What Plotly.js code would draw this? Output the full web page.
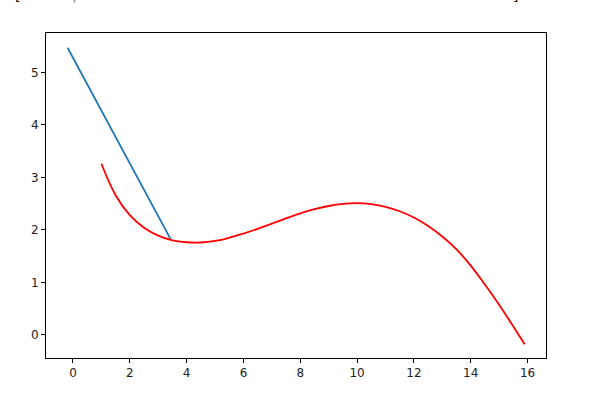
<!DOCTYPE html>
<html>
<head>
<meta charset="utf-8">
<script src="https://cdn.plot.ly/plotly-3.0.1.min.js"></script>
<style>html,body{margin:0;padding:0;background:#fff;}#chart{width:616px;height:408px;}</style>
</head>
<body>
<div id="chart"></div>
<script>
// Blue straight segment
const blueX = [-0.19, 3.45];
const blueY = [5.47, 1.81];

// Red curve
const redX = [1.0, 1.5, 2.0, 2.5, 3.0, 3.5, 4.0, 4.5, 5.0, 5.5, 6.0, 6.5, 7.0, 7.5, 8.0, 8.5, 9.0, 9.5, 10.0, 10.5, 11.0, 11.5, 12.0, 12.5, 13.0, 13.5, 14.0, 14.5, 15.0, 15.5, 15.9];
const redY = [3.26, 2.66, 2.28, 2.04, 1.89, 1.80, 1.765, 1.76, 1.79, 1.85, 1.93, 2.02, 2.12, 2.22, 2.315, 2.395, 2.455, 2.495, 2.51, 2.49, 2.44, 2.355, 2.235, 2.075, 1.875, 1.63, 1.32, 0.96, 0.575, 0.16, -0.18];

const xTicks = [0, 2, 4, 6, 8, 10, 12, 14, 16];
const yTicks = [0, 1, 2, 3, 4, 5];

const traces = [
  {x: blueX, y: blueY, mode: 'lines', line: {color: '#1f77b4', width: 1.8}, hoverinfo: 'skip'},
  {x: redX, y: redY, mode: 'lines', line: {color: '#ff0000', width: 1.8, shape: 'spline', smoothing: 1}, hoverinfo: 'skip'}
];

const axisCommon = {
  showline: true, mirror: true, linecolor: '#000', linewidth: 1,
  ticks: 'outside', ticklen: 4, tickwidth: 1, tickcolor: '#000',
  showgrid: false, zeroline: false,
  tickfont: {family: 'DejaVu Sans', size: 12, color: '#222'}
};

const frag = {xref: 'paper', yref: 'paper', y: 1.0, yanchor: 'bottom', xanchor: 'center', yshift: 28, showarrow: false};

const layout = {
  width: 616, height: 408,
  margin: {l: 46, r: 70, t: 33, b: 50},
  paper_bgcolor: '#fff', plot_bgcolor: '#fff',
  showlegend: false,
  xaxis: Object.assign({}, axisCommon, {range: [-0.95, 16.65], tickvals: xTicks, ticktext: xTicks.map(String)}),
  yaxis: Object.assign({}, axisCommon, {range: [-0.44, 5.75], tickvals: yTicks, ticktext: yTicks.map(String)}),
  annotations: [
    Object.assign({}, frag, {text: '[', x: -0.058, font: {family: 'DejaVu Sans', size: 14, color: '#000'}}),
    Object.assign({}, frag, {text: '|', x: 0.056, font: {family: 'DejaVu Sans', size: 14, color: '#777'}}),
    Object.assign({}, frag, {text: ']', x: 0.938, font: {family: 'DejaVu Sans', size: 14, color: '#000'}})
  ]
};

Plotly.newPlot('chart', traces, layout, {displayModeBar: false, staticPlot: true});
</script>
</body>
</html>
